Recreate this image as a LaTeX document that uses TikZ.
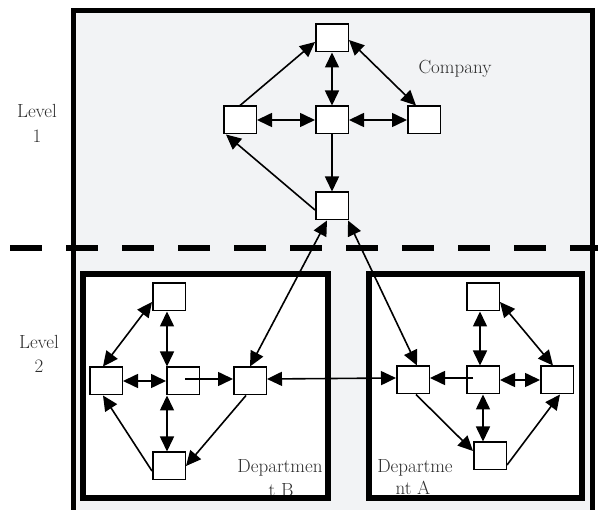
\documentclass[tikz,border=0pt]{standalone}
\usetikzlibrary{arrows.meta,calc}
\definecolor{panel}{RGB}{242,243,245}
\definecolor{ink}{RGB}{45,45,45}
\begin{document}
\begin{tikzpicture}[x=1pt,y=-1pt,
  box/.style={draw=black,fill=white,line width=1.5pt,minimum width=32.5pt,minimum height=27.5pt,inner sep=0pt},
  tipA/.tip={Triangle[length=15pt,width=14pt]},
  link/.style={line width=1.6pt,-tipA},
  both/.style={line width=1.6pt,tipA-tipA},
  lbl/.style={font=\fontsize{19}{25}\selectfont,text=ink,inner sep=0pt,anchor=base},
  frame/.style={draw=black,line width=5.5pt}]
\useasboundingbox (0,0) rectangle (598,510);
\clip (0,0) rectangle (598,510);

% outer company panel
\fill[panel] (73,11) rectangle (592,530);
\draw[line width=5pt] (73,530) -- (73,11) -- (592,11) -- (592,530);

% level separator
\draw[line width=6pt,dash pattern=on 32pt off 24pt] (10,248) -- (598,248);

% level labels
\node[lbl] (lv1a) at (37,118) {Level};
\node[lbl] (lv1b) at (37,143) {1};
\node[lbl] (lv2a) at (39,349) {Level};
\node[lbl] (lv2b) at (39,373) {2};
\node[lbl] (comp) at (455,74) {Company};

% department panels: fill, caption, then frame on top
\fill[white] (83,274) rectangle (328,498);
\fill[white] (369,274) rectangle (582,498);
\node[lbl] (depB1) at (280,473) {Departmen};
\node[lbl] (depB2) at (281,497) {t B};
\node[lbl] (depA1) at (415,473) {Departme};
\node[lbl] (depA2) at (413,495) {nt A};
\draw[frame] (83,274) rectangle (328,498);
\draw[frame] (369,274) rectangle (582,498);

% level 1 nodes
\node[box] (T)  at (332,38)  {};
\node[box] (L)  at (240,120) {};
\node[box] (C)  at (332,120) {};
\node[box] (R)  at (424,120) {};
\node[box] (Bt) at (332,206) {};

% department B nodes
\node[box] (BT) at (169,297) {};
\node[box] (BL) at (106,381) {};
\node[box] (BC) at (183,381) {};
\node[box] (BR) at (250,381) {};
\node[box] (BB) at (169,466) {};

% department A nodes
\node[box] (AT) at (483,297) {};
\node[box] (AL) at (413,380) {};
\node[box] (AC) at (483,380) {};
\node[box] (AR) at (557,380) {};
\node[box] (AB) at (490,456) {};

% level 1 connectors
\draw[link] (L.north) -- ($(T.west)+(0,4)$);
\draw[both] (T) -- (C);
\draw[both] ($(T.east)+(0,2)$) -- ($(R.north)+(-8,0)$);
\draw[both] (L) -- (C);
\draw[both] (C) -- (R);
\draw[link] (C) -- (Bt);
\draw[link] ($(Bt.west)+(0,4)$) -- ($(L.south west)+(3,0)$);

% links between the levels
\draw[both] ($(Bt.south)+(-5,0)$) -- (BR.north);
\draw[both] ($(Bt.south east)+(-1,0)$) -- ($(AL.north)+(4,0)$);
\draw[both] ($(BR.east)+(0,-2)$) -- ($(AL.west)+(0,-2)$);

% department B connectors
\draw[both] ($(BT.west)+(0,5)$) -- ($(BL.north)+(-3,0)$);
\draw[both] ($(BT.south)+(-2,0)$) -- ($(BT.south |- BC.north)+(-2,0)$);
\draw[both] (BL) -- (BC);
\draw[link] ($(BC.center)+(2,-2)$) -- ($(BR.west)+(0,-2)$);
\draw[both] ($(BB.north |- BC.south)+(-2,0)$) -- ($(BB.north)+(-2,0)$);
\draw[link] ($(BR.south)+(-4,0)$) -- (BB.east);
\draw[link] ($(BB.west)+(0,5)$) -- ($(BL.south)+(-3,0)$);

% department A connectors
\draw[both] ($(AT.south)+(-3,0)$) -- ($(AC.north)+(-3,0)$);
\draw[both] ($(AT.east)+(0,5)$) -- ($(AR.north)+(-4,0)$);
\draw[link] ($(AC.center)+(-10,-2)$) -- ($(AL.east)+(0,-2)$);
\draw[both] (AC) -- (AR);
\draw[both] (AC.south) -- (AC.south |- AB.north);
\draw[link] ($(AL.south)+(3,0)$) -- ($(AB.west)+(0,-5)$);
\draw[link] ($(AB.east)+(0,9)$) -- ($(AR.south)+(3,0)$);
\end{tikzpicture}
\end{document}
